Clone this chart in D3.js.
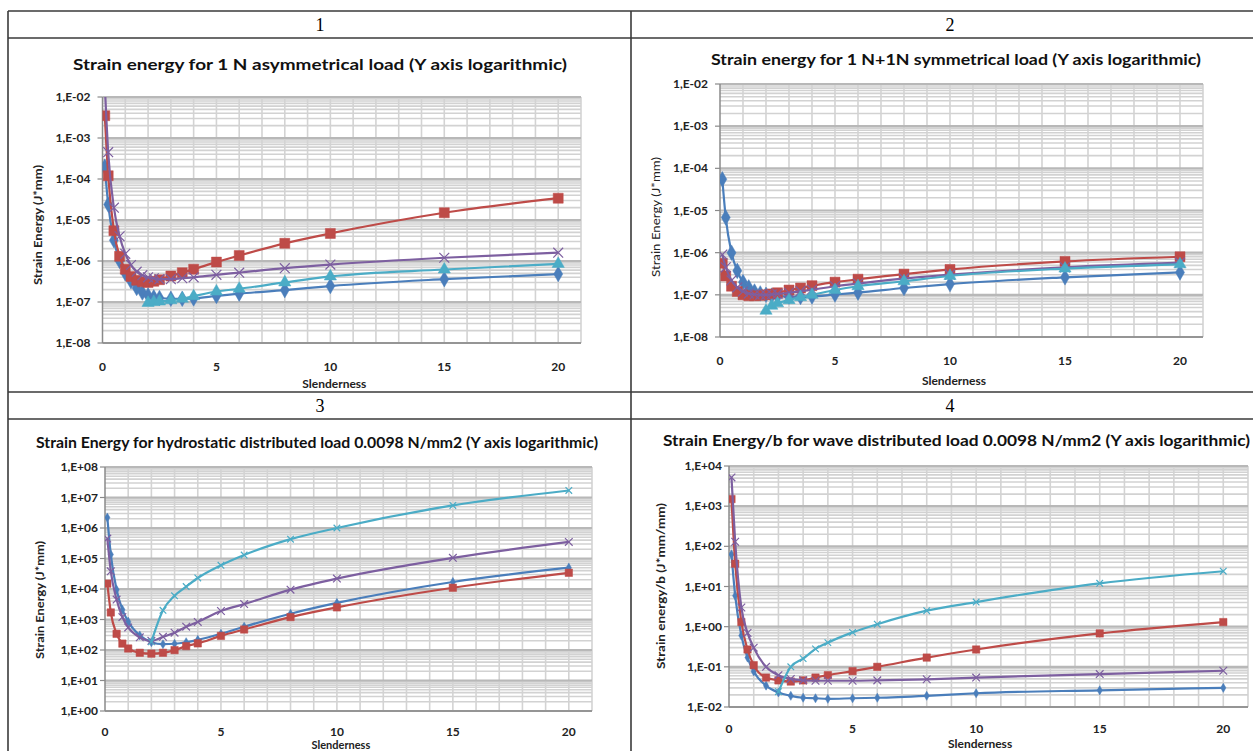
<!DOCTYPE html>
<html>
<head>
<meta charset="utf-8">
<script src="https://cdn.jsdelivr.net/npm/d3@7"></script>
<style>
  body { margin: 0; background: #fff; }
  svg text { font-family: Lato, "Open Sans", sans-serif; }
</style>
</head>
<body>
<svg id="canvas" width="1253" height="751"></svg>
<script>
// Slenderness values (x) for the top two charts and the bottom two charts
const slenderTop = [0.1, 0.25, 0.5, 0.75, 1, 1.25, 1.5, 1.75, 2, 2.25, 2.5, 3, 3.5, 4, 5, 6, 8, 10, 15, 20];
const slenderBottom = [0.1, 0.25, 0.5, 0.75, 1, 1.5, 2, 2.5, 3, 3.5, 4, 5, 6, 8, 10, 15, 20];

// Chart 1: 1 N asymmetrical load
const blue1 = [2e-4, 2.4e-5, 3.2e-6, 1.0e-6, 5e-7, 3.2e-7, 2.2e-7, 1.7e-7, 1.45e-7, 1.3e-7, 1.25e-7, 1.2e-7, 1.2e-7, 1.22e-7, 1.4e-7, 1.6e-7, 1.95e-7, 2.45e-7, 3.6e-7, 4.8e-7];
const red1 = [3.5e-3, 1.2e-4, 5.5e-6, 1.3e-6, 6.3e-7, 4.2e-7, 3.4e-7, 3.1e-7, 3.0e-7, 3.2e-7, 3.5e-7, 4.3e-7, 5.2e-7, 6.3e-7, 9.4e-7, 1.36e-6, 2.7e-6, 4.7e-6, 1.5e-5, 3.4e-5];
const purple1 = [2e-2, 4.5e-4, 2e-5, 4e-6, 1.5e-6, 8e-7, 5.5e-7, 4.5e-7, 4e-7, 3.8e-7, 3.6e-7, 3.6e-7, 3.8e-7, 4.0e-7, 4.6e-7, 5.2e-7, 6.7e-7, 8.2e-7, 1.2e-6, 1.6e-6];
const cyan1 = [null, null, null, null, null, null, null, null, 9.5e-8, 1.0e-7, 1.03e-7, 1.1e-7, 1.2e-7, 1.38e-7, 1.8e-7, 2.1e-7, 3e-7, 4.2e-7, 6.2e-7, 8.5e-7];

// Chart 2: 1 N + 1 N symmetrical load
const blue2 = [5.5e-5, 6.8e-6, 1.0e-6, 3.7e-7, 2.0e-7, 1.5e-7, 1.2e-7, 1.08e-7, 1.0e-7, 9.6e-8, 9.3e-8, 9.0e-8, 8.9e-8, 9.1e-8, 1.02e-7, 1.13e-7, 1.45e-7, 1.8e-7, 2.6e-7, 3.4e-7];
const red2 = [5.6e-7, 2.8e-7, 1.6e-7, 1.2e-7, 1.0e-7, 9.5e-8, 9.5e-8, 9.7e-8, 1.0e-7, 1.05e-7, 1.12e-7, 1.3e-7, 1.45e-7, 1.65e-7, 2.0e-7, 2.35e-7, 3.1e-7, 4.0e-7, 6.2e-7, 8.0e-7];
const purple2 = [9e-7, 4.5e-7, 2.2e-7, 1.5e-7, 1.2e-7, 1.07e-7, 1.02e-7, 1.0e-7, 1.0e-7, 1.02e-7, 1.05e-7, 1.12e-7, 1.22e-7, 1.32e-7, 1.6e-7, 1.85e-7, 2.45e-7, 3.0e-7, 4.5e-7, 5.8e-7];
const cyan2 = [null, null, null, null, null, null, null, null, 4.2e-8, 5.5e-8, 6.3e-8, 7.5e-8, 8.8e-8, 1.0e-7, 1.3e-7, 1.6e-7, 2.1e-7, 2.8e-7, 4.2e-7, 5.3e-7];

// Chart 3: hydrostatic distributed load
const blue3 = [2.2e6, 1.35e5, 9.5e3, 2.1e3, 850, 300, 180, 155, 160, 180, 215, 340, 580, 1.55e3, 3.5e3, 1.7e4, 5e4];
const red3 = [1.5e4, 1.7e3, 340, 162, 112, 81, 76, 81, 99, 134, 165, 290, 470, 1.2e3, 2.5e3, 1.1e4, 3.4e4];
const purple3 = [4.5e5, 3.8e4, 4.5e3, 1.2e3, 550, 260, 200, 270, 370, 580, 830, 1.9e3, 3.2e3, 9.5e3, 2.2e4, 1.05e5, 3.5e5];
const cyan3 = [null, null, null, null, null, null, 185, 2e3, 6e3, 1.2e4, 2.3e4, 6e4, 1.3e5, 4.3e5, 1.0e6, 5.5e6, 1.7e7];

// Chart 4: wave distributed load
const blue4 = [63, 5.9, 0.6, 0.17, 0.077, 0.034, 0.023, 0.019, 0.017, 0.0165, 0.016, 0.0165, 0.017, 0.019, 0.022, 0.026, 0.03];
const red4 = [1.5e3, 37, 1.3, 0.27, 0.11, 0.054, 0.046, 0.043, 0.046, 0.054, 0.062, 0.078, 0.1, 0.17, 0.27, 0.68, 1.3];
const purple4 = [5.2e3, 130, 3, 0.7, 0.3, 0.1, 0.062, 0.05, 0.046, 0.045, 0.045, 0.045, 0.046, 0.049, 0.054, 0.066, 0.08];
const cyan4 = [null, null, null, null, null, null, 0.024, 0.1, 0.16, 0.28, 0.4, 0.72, 1.15, 2.5, 4.1, 12, 24];

const xTicks = [0, 5, 10, 15, 20];
const headers = ["1", "2", "3", "4"];

const colors = { blue: "#4a7ebb", red: "#be4b48", purple: "#7d5fa0", cyan: "#4bacc6" };

const svg = d3.select("#canvas");

// Table frame
const frame = svg.append("g").attr("stroke", "#3a3a3a").attr("stroke-width", 1.6);
[[8, 11, 1253, 11], [8, 38, 1253, 38], [8, 392, 1253, 392], [8, 419, 1253, 419],
 [8, 11, 8, 751], [631, 11, 631, 751]].forEach(l => {
    frame.append("line").attr("x1", l[0]).attr("y1", l[1]).attr("x2", l[2]).attr("y2", l[3]);
});
[[320, 25], [950, 25], [320, 406], [950, 406]].forEach((p, i) => {
    svg.append("text")
        .attr("x", p[0]).attr("y", p[1] + 6)
        .attr("text-anchor", "middle")
        .style("font-family", "'Liberation Serif', serif")
        .style("font-size", "18px")
        .text(headers[i]);
});

const panels = [
    {
        id: 1, xs: slenderTop, series: [blue1, red1, purple1, cyan1], big: true,
        left: 102.5, right: 581, top: 97, bottom: 343, yDomain: [1e-8, 1e-2],
        title: "Strain energy for 1 N asymmetrical load (Y axis logarithmic)",
        titleX: 73, titleW: 494, titleY: 70,
        yTitle: "Strain Energy (J*mm)", yTitleX: 42, yTitleBold: true, yTitleW: 120, yTitleC: 225,
        xLabelY: 371, xTitleY: 388, xTitleSize: 12, labelGap: 12
    },
    {
        id: 2, xs: slenderTop, series: [blue2, red2, purple2, cyan2], big: true,
        left: 720, right: 1203, top: 84, bottom: 337, yDomain: [1e-8, 1e-2],
        title: "Strain energy for 1 N+1N symmetrical load (Y axis logarithmic)",
        titleX: 711, titleW: 490, titleY: 65,
        yTitle: "Strain Energy (J*mm)", yTitleX: 660, yTitleBold: false, yTitleW: 120, yTitleC: 217,
        xLabelY: 365, xTitleY: 385, xTitleSize: 12, labelGap: 12
    },
    {
        id: 3, xs: slenderBottom, series: [blue3, red3, purple3, cyan3], big: false,
        left: 105, right: 592, top: 467, bottom: 711, yDomain: [1, 1e8],
        title: "Strain Energy for hydrostatic distributed load 0.0098 N/mm2 (Y axis logarithmic)",
        titleX: 36, titleW: 562, titleY: 448,
        yTitle: "Strain Energy (J*mm)", yTitleX: 44, yTitleBold: true, yTitleW: 118, yTitleC: 600,
        xLabelY: 736, xTitleY: 748.5, xTitleSize: 11, labelGap: 7
    },
    {
        id: 4, xs: slenderBottom, series: [blue4, red4, purple4, cyan4], big: false,
        left: 729, right: 1248, top: 466, bottom: 707, yDomain: [1e-2, 1e4],
        title: "Strain Energy/b for wave distributed load 0.0098 N/mm2 (Y axis logarithmic)",
        titleX: 663, titleW: 587, titleY: 446,
        yTitle: "Strain energy/b (J*mm/mm)", yTitleX: 665, yTitleBold: true, yTitleW: 166, yTitleC: 586,
        xLabelY: 733, xTitleY: 748, xTitleSize: 12, labelGap: 7
    }
];

function expLabel(v) {
    const e = Math.round(Math.log10(v));
    const s = e < 0 ? "-" : "+";
    return "1,E" + s + String(Math.abs(e)).padStart(2, "0");
}

panels.forEach(p => {
    const g = svg.append("g");
    const x = d3.scaleLinear().domain([0, 21]).range([p.left, p.right]);
    const y = d3.scaleLog().domain(p.yDomain).range([p.bottom, p.top]);

    // Title
    g.append("text")
        .attr("x", p.titleX).attr("y", p.titleY)
        .attr("textLength", p.titleW).attr("lengthAdjust", "spacingAndGlyphs")
        .style("font-size", "16px").style("font-weight", "bold")
        .attr("fill", "#111")
        .text(p.title);

    // Minor horizontal grid (2..9 in each decade)
    const [lo, hi] = p.yDomain.map(v => Math.round(Math.log10(v)));
    const minor = [];
    const major = [];
    for (let e = lo; e <= hi; e++) {
        major.push(Math.pow(10, e));
        if (e < hi) for (let k = 2; k <= 9; k++) minor.push(k * Math.pow(10, e));
    }
    g.append("g").selectAll("line").data(minor).enter().append("line")
        .attr("x1", p.left).attr("x2", p.right)
        .attr("y1", d => y(d)).attr("y2", d => y(d))
        .attr("stroke", "#d2d2d2").attr("stroke-width", 1.6);
    // Vertical grid every unit
    g.append("g").selectAll("line").data(d3.range(1, 22)).enter().append("line")
        .attr("x1", d => x(d)).attr("x2", d => x(d))
        .attr("y1", p.top).attr("y2", p.bottom)
        .attr("stroke", "#d3d3d3").attr("stroke-width", 1.6);
    g.append("g").selectAll("line").data(major).enter().append("line")
        .attr("x1", p.left).attr("x2", p.right)
        .attr("y1", d => y(d)).attr("y2", d => y(d))
        .attr("stroke", "#b8b8b8").attr("stroke-width", 2.2);

    // Axes
    g.append("line").attr("x1", p.left).attr("x2", p.left)
        .attr("y1", p.top).attr("y2", p.bottom)
        .attr("stroke", "#8a8a8a").attr("stroke-width", 1.5);
    g.append("line").attr("x1", p.left).attr("x2", p.right)
        .attr("y1", p.bottom).attr("y2", p.bottom)
        .attr("stroke", "#8a8a8a").attr("stroke-width", 1.5);
    g.append("g").selectAll("line").data(major).enter().append("line")
        .attr("x1", p.left - 5).attr("x2", p.left)
        .attr("y1", d => y(d)).attr("y2", d => y(d))
        .attr("stroke", "#8a8a8a").attr("stroke-width", 1.2);

    // Y tick labels
    g.append("g").selectAll("text").data(major).enter().append("text")
        .attr("x", p.left - p.labelGap).attr("y", d => y(d) + 4)
        .attr("text-anchor", "end")
        .style("font-size", "12px").style("font-weight", "bold")
        .attr("fill", "#222")
        .text(expLabel);

    // X tick labels
    g.append("g").selectAll("text").data(xTicks).enter().append("text")
        .attr("x", d => x(d)).attr("y", p.xLabelY)
        .attr("text-anchor", "middle")
        .style("font-size", "12px").style("font-weight", "bold")
        .attr("fill", "#222")
        .text(d => d);

    g.append("text")
        .attr("x", (p.left + x(20)) / 2 + 4).attr("y", p.xTitleY)
        .attr("text-anchor", "middle")
        .style("font-size", p.xTitleSize + "px").style("font-weight", "bold")
        .attr("fill", "#222")
        .text("Slenderness");

    g.append("text")
        .attr("transform", `translate(${p.yTitleX},${p.yTitleC}) rotate(-90)`)
        .attr("text-anchor", "middle")
        .attr("textLength", p.yTitleW).attr("lengthAdjust", "spacingAndGlyphs")
        .style("font-size", "12px").style("font-weight", p.yTitleBold ? "bold" : "normal")
        .attr("fill", "#222")
        .text(p.yTitle);

    // Clip for series
    g.append("clipPath").attr("id", "clip" + p.id)
        .append("rect").attr("x", p.left).attr("y", p.top)
        .attr("width", p.right - p.left).attr("height", p.bottom - p.top);

    const plot = g.append("g").attr("clip-path", `url(#clip${p.id})`);
    const line = d3.line()
        .defined(d => d.v != null)
        .x(d => x(d.x)).y(d => y(d.v))
        .curve(d3.curveMonotoneX);

    const keys = ["blue", "red", "purple", "cyan"];
    keys.forEach((k, i) => {
        const pts = p.xs.map((xv, j) => ({ x: xv, v: p.series[i][j] }));
        plot.append("path").datum(pts)
            .attr("fill", "none").attr("stroke", colors[k])
            .attr("stroke-width", 2.2)
            .attr("d", line);

        let sym, size, filled = true;
        if (k === "blue") { sym = d3.symbolDiamond; size = p.big ? 70 : 24; }
        if (k === "red") { sym = d3.symbolSquare; size = p.big ? 100 : 55; }
        if (k === "purple") { sym = d3.symbolX; size = p.big ? 65 : 40; filled = false; }
        if (k === "cyan") {
            sym = p.big ? d3.symbolTriangle : d3.symbolX;
            size = p.big ? 65 : 30; filled = p.big;
        }
        plot.append("g").selectAll("path")
            .data(pts.filter(d => d.v != null)).enter().append("path")
            .attr("transform", d => `translate(${x(d.x)},${y(d.v)})`)
            .attr("d", d3.symbol().type(sym).size(size))
            .attr("fill", filled ? colors[k] : "none")
            .attr("stroke", colors[k])
            .attr("stroke-width", filled ? 0.5 : 1.2);
    });
});
</script>
</body>
</html>
